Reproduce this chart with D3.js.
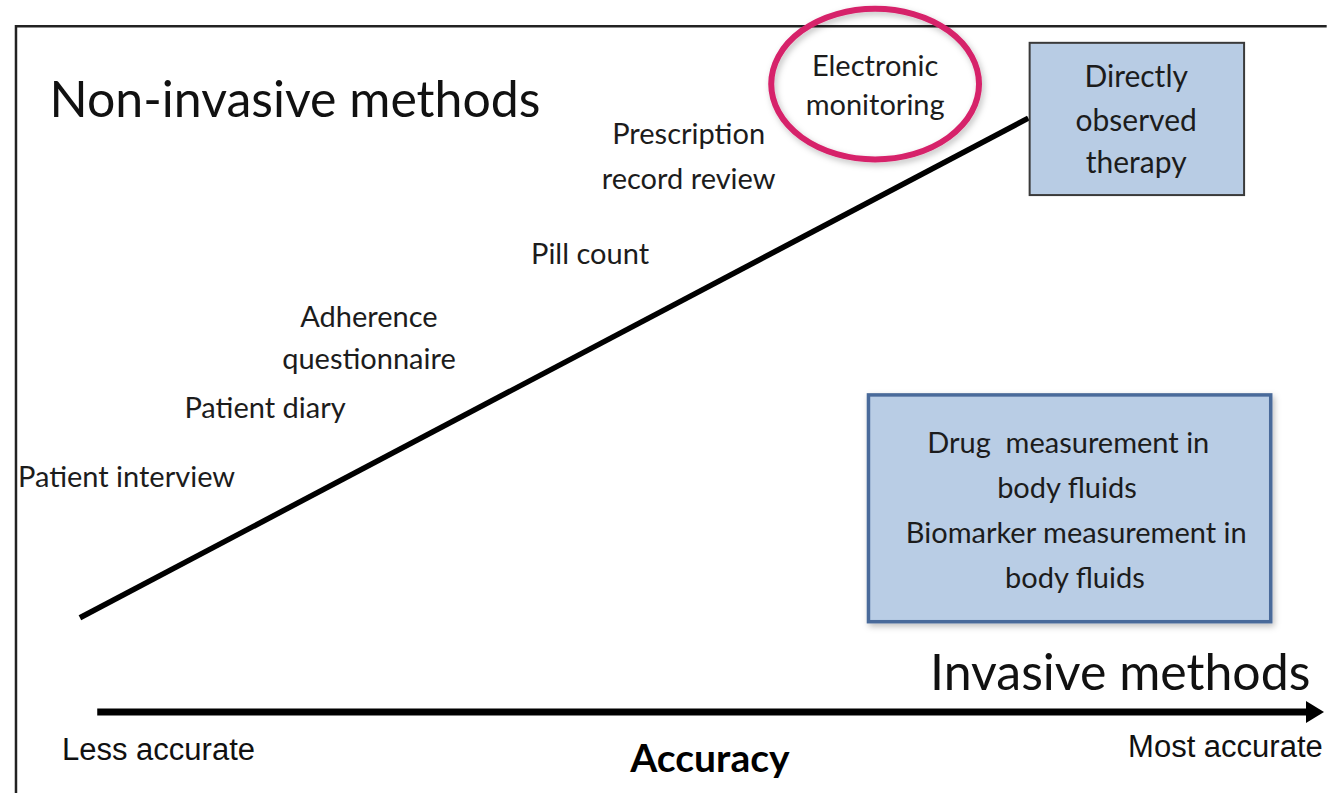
<!DOCTYPE html>
<html>
<head>
<meta charset="utf-8">
<script src="https://cdn.jsdelivr.net/npm/d3@7"></script>
<style>
  body { margin: 0; background: #fff; }
  svg { display: block; }
</style>
</head>
<body>
<svg id="chart" width="1332" height="793"></svg>
<script>
// all positions below are percent of the slide (x across, y down)
const methods = ["Patient interview", "Patient diary", "Adherence", "questionnaire", "Pill count",
  "Prescription", "record review", "Electronic", "monitoring"]
const methodX = [9.5, 19.9, 27.7, 27.7, 44.3, 51.7, 51.7, 65.7, 65.7]
const methodY = [61.4, 52.7, 41.2, 46.5, 33.3, 18.2, 23.8, 9.6, 14.5]

const trendX = [6.0, 77.2]
const trendY = [77.9, 14.9]

const boxX0 = [77.3, 65.2]
const boxX1 = [93.4, 95.4]
const boxY0 = [5.4, 49.8]
const boxY1 = [24.6, 78.4]
const boxLines = [
  ["Directly", "observed", "therapy"],
  ["Drug  measurement in", "body fluids", "Biomarker measurement in", "body fluids"]
]
const boxLineX = [[85.3, 85.3, 85.3], [80.2, 80.1, 80.8, 80.7]]
const boxLineY = [[11.0, 16.5, 21.8], [57.1, 62.8, 68.5, 74.1]]

const titles = ["Non-invasive methods", "Invasive methods"]
const titleX = [22.15, 84.1]
const titleY = [14.8, 87.0]

const axisEnds = ["Less accurate", "Most accurate"]
const axisEndX = [11.9, 92.0]
const axisEndY = [95.8, 95.5]
const axisTitle = "Accuracy"
const axisTitlePos = [53.3, 97.3]
const arrowX = [7.3, 99.4]
const arrowY = 89.8

const frame = { left: 1.2, top: 3.3, right: 99.6 }
const highlight = { cx: 65.7, cy: 10.6, rx: 7.8, ry: 9.5 }

const svg = d3.select('#chart')
const W = +svg.attr('width')
const H = +svg.attr('height')
const x = d3.scaleLinear().domain([0, 100]).range([0, W])
const y = d3.scaleLinear().domain([0, 100]).range([0, H])
const rx = d3.scaleLinear().domain([0, 100]).range([0, W])
const ry = d3.scaleLinear().domain([0, 100]).range([0, H])

const font = "Lato, 'Open Sans', sans-serif"
const ink = '#1c1c1c'

const defs = svg.append('defs')
defs.append('filter').attr('id', 'shadow')
    .attr('x', '-20%').attr('y', '-20%').attr('width', '140%').attr('height', '140%')
  .append('feDropShadow')
    .attr('dx', 2).attr('dy', 3).attr('stdDeviation', 3)
    .attr('flood-color', '#000').attr('flood-opacity', 0.25)

// frame (top + left only)
svg.append('path')
    .attr('d', `M${x(frame.right)},${y(frame.top)} H${x(frame.left)} V${H}`)
    .attr('fill', 'none')
    .attr('stroke', '#222')
    .attr('stroke-width', 2.5)

// trend line
svg.append('line')
    .attr('x1', x(trendX[0])).attr('y1', y(trendY[0]))
    .attr('x2', x(trendX[1])).attr('y2', y(trendY[1]))
    .attr('stroke', '#000')
    .attr('stroke-width', 5.5)

// boxes
const boxFill = ['#b8cce4', '#b9cde5']
const boxStroke = ['#3a3a3a', '#4a6a9a']
const boxStrokeW = [2, 3.5]
boxX0.forEach((_, i) => {
    svg.append('rect')
        .attr('x', x(boxX0[i])).attr('y', y(boxY0[i]))
        .attr('width', x(boxX1[i]) - x(boxX0[i]))
        .attr('height', y(boxY1[i]) - y(boxY0[i]))
        .attr('fill', boxFill[i])
        .attr('stroke', boxStroke[i])
        .attr('stroke-width', boxStrokeW[i])
        .attr('filter', i === 1 ? 'url(#shadow)' : null)

    svg.append('g').selectAll('text')
      .data(boxLines[i])
      .join('text')
        .attr('x', (d, j) => x(boxLineX[i][j]))
        .attr('y', (d, j) => y(boxLineY[i][j]))
        .attr('text-anchor', 'middle')
        .attr('font-family', font)
        .attr('font-size', i === 0 ? 30 : 29)
        .attr('fill', ink)
        .attr('xml:space', 'preserve')
        .style('white-space', 'pre')
        .text(d => d)
})

// method labels
svg.append('g').selectAll('text')
  .data(methods)
  .join('text')
    .attr('x', (d, i) => x(methodX[i]))
    .attr('y', (d, i) => y(methodY[i]))
    .attr('text-anchor', 'middle')
    .attr('font-family', font)
    .attr('font-size', 29)
    .attr('fill', ink)
    .text(d => d)

// highlight ring round electronic monitoring
svg.append('ellipse')
    .attr('cx', x(highlight.cx)).attr('cy', y(highlight.cy))
    .attr('rx', rx(highlight.rx)).attr('ry', ry(highlight.ry))
    .attr('fill', 'none')
    .attr('stroke', '#d6226a')
    .attr('stroke-width', 6)
    .attr('filter', 'url(#shadow)')

// big titles
svg.append('g').selectAll('text')
  .data(titles)
  .join('text')
    .attr('x', (d, i) => x(titleX[i]))
    .attr('y', (d, i) => y(titleY[i]))
    .attr('text-anchor', 'middle')
    .attr('font-family', font)
    .attr('font-size', 50)
    .attr('fill', '#111')
    .text(d => d)

// accuracy arrow
const ax0 = x(arrowX[0]), ax1 = x(arrowX[1]), ay = y(arrowY)
svg.append('line')
    .attr('x1', ax0).attr('y1', ay)
    .attr('x2', ax1 - 12).attr('y2', ay)
    .attr('stroke', '#000')
    .attr('stroke-width', 7)
svg.append('path')
    .attr('d', `M${ax1},${ay} L${ax1 - 18},${ay - 11} L${ax1 - 18},${ay + 11} Z`)
    .attr('fill', '#000')

svg.append('g').selectAll('text')
  .data(axisEnds)
  .join('text')
    .attr('x', (d, i) => x(axisEndX[i]))
    .attr('y', (d, i) => y(axisEndY[i]))
    .attr('text-anchor', 'middle')
    .attr('font-family', "'Liberation Sans', Arial, sans-serif")
    .attr('font-size', 31)
    .attr('fill', '#111')
    .text(d => d)

svg.append('text')
    .attr('x', x(axisTitlePos[0]))
    .attr('y', y(axisTitlePos[1]))
    .attr('text-anchor', 'middle')
    .attr('font-family', font)
    .attr('font-weight', 'bold')
    .attr('font-size', 39)
    .attr('fill', '#000')
    .text(axisTitle)
</script>
</body>
</html>
